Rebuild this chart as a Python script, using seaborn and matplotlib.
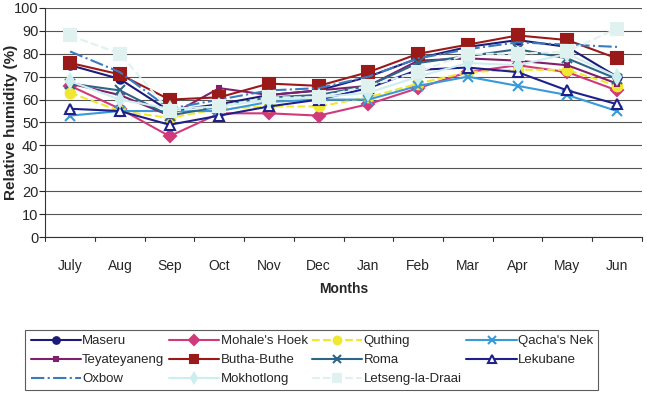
import matplotlib
matplotlib.use('Agg')
import matplotlib.pyplot as plt
import seaborn as sns
import pandas as pd

months = ['July', 'Aug', 'Sep', 'Oct', 'Nov', 'Dec', 'Jan', 'Feb', 'Mar', 'Apr', 'May', 'Jun']

maseru = [75, 69, 55, 58, 62, 64, 70, 78, 83, 86, 83, 70]
mohales_hoek = [66, 56, 44, 54, 54, 53, 58, 65, 72, 75, 72, 64]
quthing = [63, 55, 52, 56, 57, 57, 61, 67, 72, 73, 73, 66]
qachas_nek = [53, 55, 55, 55, 59, 60, 60, 66, 70, 66, 62, 55]
teyateyaneng = [67, 62, 53, 65, 62, 64, 66, 77, 78, 77, 75, 67]
butha_buthe = [76, 71, 60, 61, 67, 66, 72, 80, 84, 88, 86, 78]
roma = [67, 64, 53, 57, 61, 62, 66, 76, 79, 82, 78, 69]
lekubane = [56, 55, 49, 53, 57, 60, 65, 73, 74, 72, 64, 58]
oxbow = [81, 72, 56, 60, 64, 65, 70, 78, 82, 85, 84, 83]
mokhotlong = [68, 60, 56, 57, 60, 61, 63, 70, 76, 75, 80, 70]
letseng = [88, 80, 55, 57, 61, 61, 66, 72, 80, 80, 81, 91]

# name, values, colour, linestyle, marker, marker size, filled
series = [
    ('Maseru', maseru, '#1c1c78', '-', 'o', 6, True),
    ("Mohale's Hoek", mohales_hoek, '#d03a7a', '-', 'D', 6, True),
    ('Quthing', quthing, '#f0e830', '--', 'o', 7, True),
    ("Qacha's Nek", qachas_nek, '#3a9ad8', '-', 'x', 7, True),
    ('Teyateyaneng', teyateyaneng, '#80206a', '-', 's', 3, True),
    ('Butha-Buthe', butha_buthe, '#9a1a1a', '-', 's', 8, True),
    ('Roma', roma, '#2e6688', '-', 'x', 7, True),
    ('Lekubane', lekubane, '#20208a', '-', '^', 7, False),
    ('Oxbow', oxbow, '#3a7ac0', '-.', None, 0, True),
    ('Mokhotlong', mokhotlong, '#cdeeee', '-', 'd', 7, True),
    ('Letseng-la-Draai', letseng, '#dff2f0', '--', 's', 8, True),
]

sns.set_style('white')
plt.rcParams['font.family'] = ['Liberation Sans Narrow', 'Liberation Sans', 'DejaVu Sans']

fig = plt.figure(figsize=(6.47, 3.99), dpi=100)
ax = fig.add_axes([0.07, 0.406, 0.922, 0.574])

handles = {}
for name, vals, col, ls, mk, ms, filled in series:
    df = pd.DataFrame({'month': months, 'rh': vals})
    sns.lineplot(data=df, x='month', y='rh', ax=ax, sort=False, color=col,
                 linestyle=ls, marker=mk, markersize=ms, linewidth=1.5,
                 markerfacecolor=col if filled else 'white',
                 markeredgecolor=col, markeredgewidth=1.5)
    handles[name] = ax.lines[-1]

ax.set_ylim(0, 100)
ax.set_xlim(-0.5, 11.5)
ax.set_yticks(range(0, 101, 10))
ax.grid(axis='y', color='#555555', linewidth=0.8)
ax.grid(axis='x', visible=False)
for s in ['top', 'right']:
    ax.spines[s].set_visible(False)
ax.spines['left'].set_color('#333333')
ax.spines['bottom'].set_color('#333333')
ax.tick_params(axis='y', left=True, length=4, labelsize=10.5, pad=1)
ax.tick_params(axis='x', bottom=False, labelsize=10, pad=12)
# ticks between categories
for i in range(13):
    ax.plot([i - 0.5, i - 0.5], [0, -1.8], color='#333333', lw=0.8, clip_on=False)

ax.set_xlabel('Months', fontsize=10, fontweight='bold', labelpad=7)
ax.set_ylabel('Relative humidity (%)', fontsize=11, fontweight='bold')
ax.yaxis.set_label_coords(-0.046, 0.5)

order = ['Maseru', 'Teyateyaneng', 'Oxbow',
         "Mohale's Hoek", 'Butha-Buthe', 'Mokhotlong',
         'Quthing', 'Roma', 'Letseng-la-Draai',
         "Qacha's Nek", 'Lekubane']
leg = fig.legend([handles[n] for n in order], order, loc='lower left',
                 bbox_to_anchor=(0.029, 0.005, 0.906, 0.215), mode='expand',
                 ncol=4, fontsize=9.5, frameon=True, fancybox=False,
                 handlelength=3.8, handletextpad=0.1, borderpad=0.4,
                 labelspacing=0.5, markerscale=0.8, columnspacing=1.0)
leg.get_frame().set_edgecolor('#333333')
leg.get_frame().set_linewidth(0.8)

fig.savefig('out.png', dpi=100)
